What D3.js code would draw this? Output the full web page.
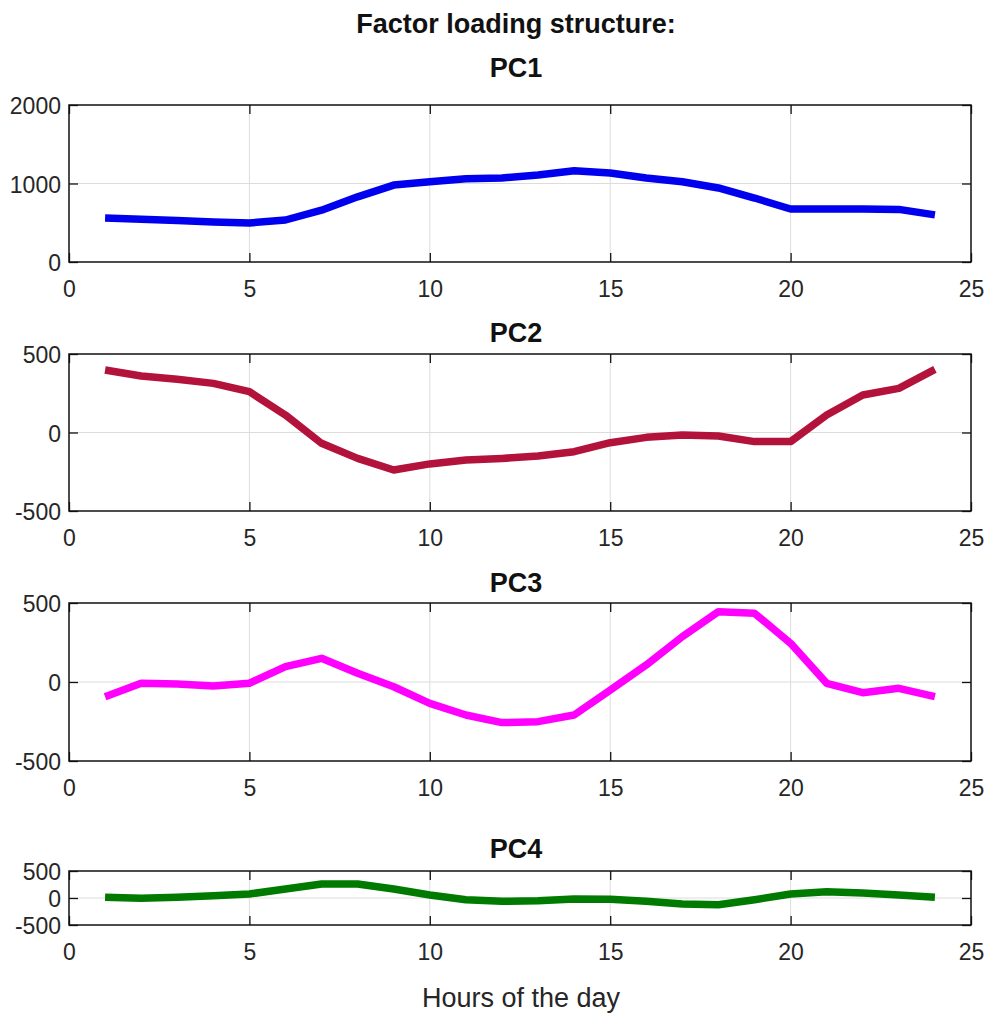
<!DOCTYPE html>
<html>
<head>
<meta charset="utf-8">
<script src="https://cdn.jsdelivr.net/npm/d3@7"></script>
<style>
  html, body { margin: 0; padding: 0; background: #fff; }
  svg { display: block; font-family: "Liberation Sans", Arial, Helvetica, sans-serif; }
</style>
</head>
<body>
<svg id="chart" width="991" height="1024"></svg>
<script>
// ---- data ----
const hours = [1,2,3,4,5,6,7,8,9,10,11,12,13,14,15,16,17,18,19,20,21,22,23,24];
const pc1 = [560, 545, 530, 510, 497, 535, 660, 830, 980, 1023, 1060, 1070, 1108, 1163, 1133, 1070, 1023, 943, 815, 675, 675, 675, 670, 600];
const pc2 = [398, 360, 339, 313, 260, 111, -69, -165, -239, -200, -175, -165, -150, -122, -65, -31, -16, -22, -58, -58, 111, 239, 281, 402];
const pc3 = [-93, -8, -13, -25, -8, 97, 150, 55, -30, -135, -209, -257, -251, -209, -51, 108, 287, 445, 435, 245, -8, -68, -40, -93];
const pc4 = [13, -6, 13, 43, 74, 167, 260, 260, 167, 56, -31, -62, -50, -19, -25, -62, -111, -124, -31, 74, 117, 93, 56, 13];
const seriesNames = ["PC1", "PC2", "PC3", "PC4"];
const xTicks = [0, 5, 10, 15, 20, 25];
const yTicks1 = [0, 1000, 2000];
const yTicksOther = [-500, 0, 500];
const mainTitle = "Factor loading structure:";
const xLabel = "Hours of the day";

// ---- layout ----
const left = 69, right = 971;
const panels = [
  { name: seriesNames[0], values: pc1, top: 105, bottom: 262, domain: [0, 2000], ticks: yTicks1, color: "#0000ee", titleY: 77 },
  { name: seriesNames[1], values: pc2, top: 354, bottom: 511, domain: [-500, 500], ticks: yTicksOther, color: "#b3123a", titleY: 342 },
  { name: seriesNames[2], values: pc3, top: 603, bottom: 761, domain: [-500, 500], ticks: yTicksOther, color: "#ff00ff", titleY: 592 },
  { name: seriesNames[3], values: pc4, top: 871, bottom: 925, domain: [-500, 500], ticks: yTicksOther, color: "#007a00", titleY: 858 }
];

const svg = d3.select("#chart");
const x = d3.scaleLinear().domain([0, 25]).range([left, right]);
const cx = 516;
const fmt = d => String(d);   // plain hyphen-minus like the reference

svg.append("text")
  .attr("x", cx).attr("y", 33)
  .attr("text-anchor", "middle")
  .attr("font-weight", "bold")
  .attr("font-size", 27)
  .attr("fill", "#111")
  .text(mainTitle);

const tickLen = 9;

panels.forEach(p => {
  const y = d3.scaleLinear().domain(p.domain).range([p.bottom, p.top]);
  const g = svg.append("g");

  // grid
  g.selectAll(".vg").data(xTicks.slice(1, -1)).enter().append("line")
    .attr("x1", d => x(d)).attr("x2", d => x(d))
    .attr("y1", p.top).attr("y2", p.bottom)
    .attr("stroke", "#dcdcdc").attr("stroke-width", 1);
  g.selectAll(".hg").data(p.ticks.slice(1, -1)).enter().append("line")
    .attr("x1", left).attr("x2", right)
    .attr("y1", d => y(d)).attr("y2", d => y(d))
    .attr("stroke", "#dcdcdc").attr("stroke-width", 1);

  // line
  const line = d3.line().x((d, i) => x(hours[i])).y(d => y(d));
  g.append("path")
    .datum(p.values)
    .attr("d", line)
    .attr("fill", "none")
    .attr("stroke", p.color)
    .attr("stroke-width", 7.5)
    .attr("stroke-linejoin", "round")
    .attr("stroke-linecap", "butt");

  // axes with inward ticks (bottom, top, left, right)
  const xb = d3.axisBottom(x).tickValues(xTicks).tickSize(-tickLen).tickFormat(fmt);
  const xt = d3.axisTop(x).tickValues(xTicks).tickSize(-tickLen).tickFormat("");
  const yl = d3.axisLeft(y).tickValues(p.ticks).tickSize(-tickLen).tickFormat(fmt);
  const yr = d3.axisRight(y).tickValues(p.ticks).tickSize(-tickLen).tickFormat("");

  const gxb = g.append("g").attr("transform", `translate(0,${p.bottom})`).call(xb);
  const gxt = g.append("g").attr("transform", `translate(0,${p.top})`).call(xt);
  const gyl = g.append("g").attr("transform", `translate(${left},0)`).call(yl);
  const gyr = g.append("g").attr("transform", `translate(${right},0)`).call(yr);

  [gxb, gxt, gyl, gyr].forEach(a => {
    a.select(".domain").remove();
    a.selectAll(".tick line").attr("stroke", "#111").attr("stroke-width", 1.3);
    a.selectAll("text").attr("font-size", 23).attr("fill", "#262626")
      .attr("font-family", "'Liberation Sans', Arial, sans-serif");
  });
  gxb.selectAll("text").attr("dy", "0.71em").attr("y", 19);
  gyl.selectAll("text").attr("dy", "0.38em").attr("x", -8);

  // frame
  g.append("rect")
    .attr("x", left).attr("y", p.top)
    .attr("width", right - left).attr("height", p.bottom - p.top)
    .attr("fill", "none").attr("stroke", "#111").attr("stroke-width", 1.5);

  // panel title
  svg.append("text")
    .attr("x", cx).attr("y", p.titleY)
    .attr("text-anchor", "middle")
    .attr("font-weight", "bold")
    .attr("font-size", 27)
    .attr("fill", "#111")
    .text(p.name);
});

svg.append("text")
  .attr("x", 521).attr("y", 1007)
  .attr("text-anchor", "middle")
  .attr("font-size", 27)
  .attr("fill", "#262626")
  .text(xLabel);
</script>
</body>
</html>
